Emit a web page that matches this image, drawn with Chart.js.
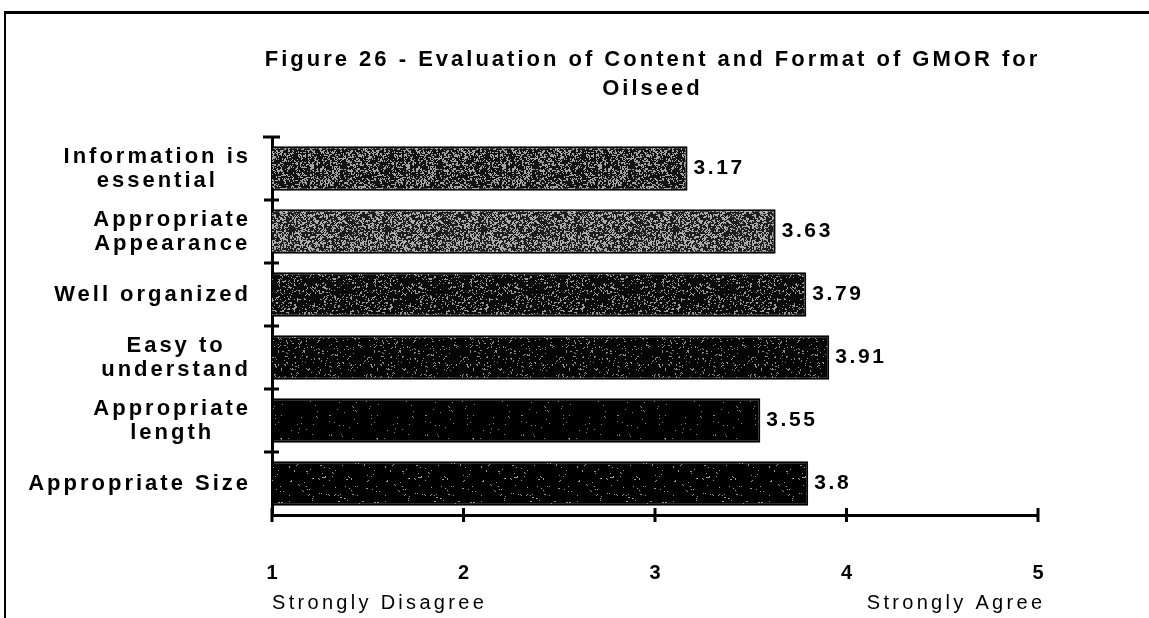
<!DOCTYPE html>
<html>
<head>
<meta charset="utf-8">
<script src="https://cdn.jsdelivr.net/npm/chart.js@4.4.1/dist/chart.umd.min.js"></script>
<style>
  html, body { margin: 0; padding: 0; background: #fff; }
  #wrap { width: 1149px; height: 618px; position: relative; }
</style>
</head>
<body>
<div id="wrap"><canvas id="c" width="1149" height="618"></canvas></div>
<script>
// Survey items (top to bottom) and their mean ratings on a 1-5 scale
const categories = [
  ["Information is", "essential"],
  ["Appropriate", "Appearance"],
  ["Well organized"],
  ["Easy to", "understand"],
  ["Appropriate", "length"],
  ["Appropriate Size"]
];
const ratings = [3.17, 3.63, 3.79, 3.91, 3.55, 3.8];
const xTicks = [1, 2, 3, 4, 5];
const scaleEnds = ["Strongly Disagree", "Strongly Agree"];
const titleLines = ["Figure 26 - Evaluation of Content and Format of GMOR for", "Oilseed"];

// Stippled fills, one per bar: [base colour, speckle colour, speckle density]
const fillSpecs = [
  ["#111111", "#a4a4a4", 0.40],
  ["#1c1c1c", "#acacac", 0.44],
  ["#0a0a0a", "#999999", 0.27],
  ["#050505", "#8e8e8e", 0.19],
  ["#000000", "#888888", 0.08],
  ["#000000", "#999999", 0.12]
];

// deterministic integer hash -> [0, 1)
function hash01(x, y, s) {
  let h = (x * 374761393 + y * 668265263 + s * 2246822519) | 0;
  h = Math.imul(h ^ (h >>> 13), 1274126177);
  h = h ^ (h >>> 16);
  return (h >>> 0) / 4294967296;
}

// speckle texture with a mix of single dots and small 2x2 clumps
function makePattern(base, speck, density, seed) {
  const n = 96;
  const t = document.createElement('canvas');
  t.width = n; t.height = n;
  const g = t.getContext('2d');
  g.fillStyle = base; g.fillRect(0, 0, n, n);
  g.fillStyle = speck;
  for (let y = 0; y < n; y++) {
    for (let x = 0; x < n; x++) {
      const clump = hash01(x >> 1, y >> 1, seed + 50);
      const dot = hash01(x, y, seed);
      if (0.5 * clump + 0.5 * dot < density) g.fillRect(x, y, 1, 1);
    }
  }
  return g.createPattern(t, 'repeat');
}
const barFills = fillSpecs.map((s, i) => makePattern(s[0], s[1], s[2], i + 1));

const FONT = '"Liberation Sans", Arial, Helvetica, sans-serif';

function spacedWidth(ctx, text, spacing) {
  return ctx.measureText(text).width - spacing;
}

// Frame, title, category labels, value labels and cross-shaped tick marks
const decorations = {
  id: 'decorations',
  afterDraw(chart) {
    const ctx = chart.ctx;
    const xs = chart.scales.x, ys = chart.scales.y;
    const area = chart.chartArea;
    ctx.save();

    // outer frame (top and left edges)
    ctx.strokeStyle = '#000';
    ctx.lineWidth = 3;
    ctx.beginPath(); ctx.moveTo(4, 12.5); ctx.lineTo(1149, 12.5); ctx.stroke();
    ctx.lineWidth = 2;
    ctx.beginPath(); ctx.moveTo(5, 12); ctx.lineTo(5, 618); ctx.stroke();

    ctx.fillStyle = '#000';
    ctx.textBaseline = 'middle';
    ctx.textAlign = 'left';

    // title, centred over the plot area
    const titleSp = 3.0;
    ctx.font = 'bold 22px ' + FONT;
    ctx.letterSpacing = titleSp + 'px';
    const tcx = (area.left + area.right) / 2 - 4;
    titleLines.forEach((line, i) => {
      const w = spacedWidth(ctx, line, titleSp);
      ctx.fillText(line, tcx - w / 2, 60 + i * 29);
    });

    // category labels: block right-aligned to the axis, lines centred in the block
    const labSp = 3.0;
    ctx.font = 'bold 22px ' + FONT;
    ctx.letterSpacing = labSp + 'px';
    const rightEdge = area.left - 24;
    categories.forEach((lines, i) => {
      const cy = ys.getPixelForValue(i);
      const widths = lines.map(l => spacedWidth(ctx, l, labSp));
      const bw = Math.max(...widths);
      const bcx = rightEdge - bw / 2;
      const lh = 24;
      lines.forEach((l, j) => {
        const y = cy + (j - (lines.length - 1) / 2) * lh;
        ctx.fillText(l, bcx - widths[j] / 2, y);
      });
    });

    // value labels at the end of each bar
    ctx.font = 'bold 21px ' + FONT;
    ctx.letterSpacing = '2.6px';
    const meta = chart.getDatasetMeta(0);
    meta.data.forEach((bar, i) => {
      ctx.fillText(String(ratings[i]), bar.x + 6, bar.y);
    });

    // scale-end captions
    const capSp = 3.3;
    ctx.font = '20px ' + FONT;
    ctx.letterSpacing = capSp + 'px';
    ctx.fillText(scaleEnds[0], xs.getPixelForValue(xTicks[0]), 603);
    const we = spacedWidth(ctx, scaleEnds[1], capSp);
    ctx.fillText(scaleEnds[1], xs.getPixelForValue(xTicks[xTicks.length - 1]) + 4 - we, 603);
    ctx.letterSpacing = '0px';

    // cross ticks on the category axis (category boundaries)
    ctx.lineWidth = 3;
    ctx.strokeStyle = '#000';
    for (let i = 0; i < categories.length; i++) {
      const y = ys.getPixelForValue(i - 0.5);
      const half = i === 0 ? 9 : 8;
      ctx.beginPath(); ctx.moveTo(area.left - half, y); ctx.lineTo(area.left + half - 1, y); ctx.stroke();
    }
    // cross ticks on the value axis
    xTicks.forEach(v => {
      const x = xs.getPixelForValue(v);
      ctx.beginPath(); ctx.moveTo(x, area.bottom - 7); ctx.lineTo(x, area.bottom + 7); ctx.stroke();
    });
    ctx.restore();
  }
};

new Chart(document.getElementById('c'), {
  type: 'bar',
  data: {
    labels: categories,
    datasets: [{
      data: ratings,
      backgroundColor: barFills,
      borderColor: '#000',
      borderWidth: 2,
      borderSkipped: false,
      categoryPercentage: 1.0,
      barPercentage: 0.71
    }]
  },
  options: {
    indexAxis: 'y',
    responsive: false,
    animation: false,
    devicePixelRatio: 1,
    layout: { padding: { left: 0, right: 1149 - 1038, top: 137, bottom: 0 } },
    plugins: { legend: { display: false }, tooltip: { enabled: false }, title: { display: false } },
    scales: {
      x: {
        type: 'linear',
        min: 1,
        max: 5,
        afterBuildTicks(s) { s.ticks = xTicks.map(v => ({ value: v })); },
        afterFit(s) { s.height = 618 - 515; },
        grid: { display: false, drawTicks: false },
        border: { display: true, color: '#000', width: 3 },
        ticks: { color: '#000', padding: 46, font: { family: FONT, size: 20, weight: 'bold' } }
      },
      y: {
        type: 'category',
        afterFit(s) { s.width = 272; },
        grid: { display: false, drawTicks: false },
        border: { display: true, color: '#000', width: 3 },
        ticks: { display: false }
      }
    }
  },
  plugins: [decorations]
});
</script>
</body>
</html>
